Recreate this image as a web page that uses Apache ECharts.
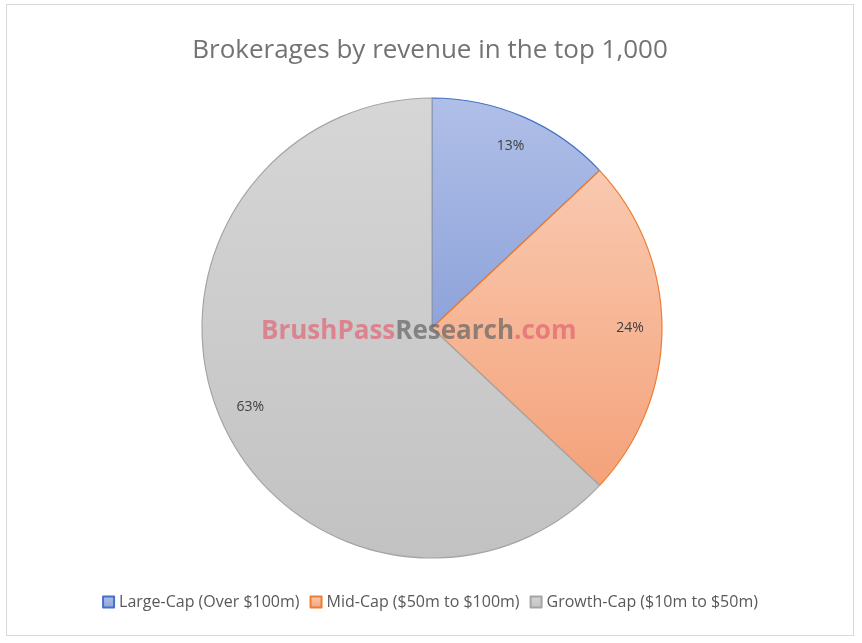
<!DOCTYPE html>
<html>
<head>
<meta charset="utf-8">
<script src="https://cdn.jsdelivr.net/npm/echarts@6/dist/echarts.min.js"></script>
<style>
  html, body { margin: 0; padding: 0; background: #fff; }
  #main { position: absolute; left: 6px; top: 4px; width: 848px; height: 632px; border: 1px solid #d9d9d9; box-sizing: border-box; }
</style>
</head>
<body>
<div id="main"></div>
<script>
// 数据
let categories = ['Large-Cap (Over $100m)', 'Mid-Cap ($50m to $100m)', 'Growth-Cap ($10m to $50m)'];
let values = [13, 24, 63];
let colors = [
    ['#b0bfe8', '#8ea3da', '#4472c4'],
    ['#f9c9b0', '#f4a27a', '#ed7d31'],
    ['#d6d6d6', '#c2c2c2', '#a5a5a5']
];

let myChart = echarts.init(document.getElementById('main'));

let pieData = categories.map((name, i) => ({
    name: name,
    value: values[i],
    itemStyle: {
        color: new echarts.graphic.LinearGradient(0, 0, 0, 1, [
            {offset: 0, color: colors[i][0]},
            {offset: 1, color: colors[i][1]}
        ]),
        borderColor: colors[i][2],
        borderWidth: 1.2
    }
}));

let option = {
    title: {
        text: 'Brokerages by revenue in the top 1,000',
        left: 'center',
        top: 28,
        textStyle: {fontFamily: 'Open Sans', fontSize: 26, fontWeight: 'normal', color: '#737373'}
    },
    legend: {
        data: categories,
        bottom: 20,
        left: 'center',
        itemWidth: 11,
        itemHeight: 11,
        itemGap: 10,
        icon: 'rect',
        textStyle: {fontFamily: 'Open Sans', fontSize: 16, color: '#595959'}
    },
    series: [{
        type: 'pie',
        center: [425, 323],
        radius: [0, 230],
        startAngle: 90,
        clockwise: true,
        label: {show: false},
        labelLine: {show: false},
        emphasis: {disabled: true},
        data: pieData,
        z: 1
    }, {
        type: 'pie',
        center: [425, 323],
        radius: [160, 230],
        startAngle: 90,
        clockwise: true,
        silent: true,
        itemStyle: {color: 'transparent', borderWidth: 0},
        label: {
            show: true,
            position: 'inside',
            formatter: '{c}%',
            fontFamily: 'Open Sans',
            fontSize: 14,
            color: '#404040'
        },
        labelLine: {show: false},
        data: categories.map((name, i) => ({name: name, value: values[i]})),
        z: 2
    }],
    graphic: [{
        type: 'text',
        left: 254,
        top: 314,
        z: 100,
        style: {
            text: '{a|BrushPass}{b|Research}{a|.com}',
            rich: {
                a: {fontFamily: 'Open Sans', fontWeight: 'bold', fontSize: 26, fill: 'rgba(225,100,115,0.7)'},
                b: {fontFamily: 'Open Sans', fontWeight: 'bold', fontSize: 26, fill: 'rgba(100,100,100,0.7)'}
            }
        }
    }]
};

myChart.setOption(option);
</script>
</body>
</html>
